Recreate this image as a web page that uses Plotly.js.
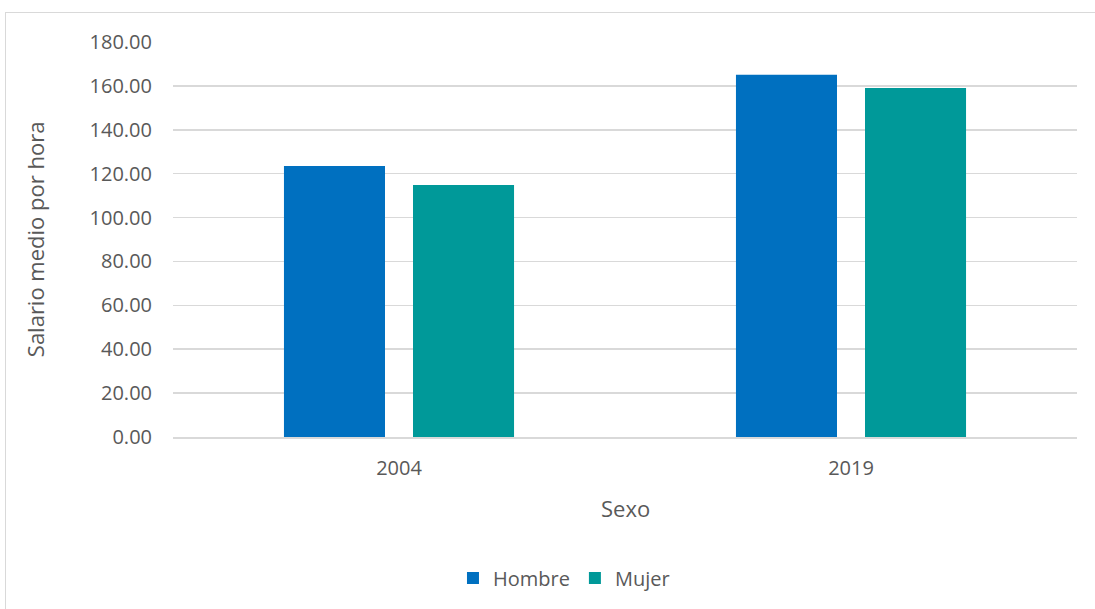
<!DOCTYPE html>
<html>
<head>
<meta charset="utf-8">
<script src="https://cdn.plot.ly/plotly-3.0.1.min.js"></script>
<style>
html,body{margin:0;padding:0;background:#fff;width:1095px;height:609px;overflow:hidden;}
#frame{position:absolute;left:5px;top:12px;width:1100px;height:610px;border:1.5px solid #d9d9d9;box-sizing:border-box;}
#chart{position:absolute;left:0;top:0;width:1095px;height:609px;}
</style>
</head>
<body>
<div id="frame"></div>
<div id="chart"></div>
<script>
const categories = ["2004", "2019"];
const hombre = [123.5, 165.1];
const mujer = [114.8, 159.0];
const yTicks = [0, 20, 40, 60, 80, 100, 120, 140, 160, 180];
const yTickLabels = yTicks.map(v => v.toFixed(2));

const font = "Open Sans, sans-serif";
const textColor = "#595959";

const traces = [
  {type: "bar", name: "Hombre", x: categories, y: hombre, marker: {color: "#0070C0"}, hoverinfo: "x+y+name"},
  {type: "bar", name: "Mujer", x: categories, y: mujer, marker: {color: "#009999"}, hoverinfo: "x+y+name"}
];

const layout = {
  width: 1095, height: 609,
  margin: {l: 173, r: 18, t: 42, b: 172, pad: 0},
  paper_bgcolor: "rgba(0,0,0,0)",
  plot_bgcolor: "rgba(0,0,0,0)",
  barmode: "group",
  bargap: 0.429,
  bargroupgap: 0.217,
  font: {family: font, color: textColor, size: 20},
  xaxis: {
    type: "category",
    showgrid: false, zeroline: false, showline: true,
    linecolor: "#d9d9d9", linewidth: 1.5,
    ticks: "", tickfont: {family: font, size: 20, color: textColor},
    ticklabelstandoff: 12
  },
  yaxis: {
    range: [0, 180],
    tickvals: yTicks, ticktext: yTickLabels,
    showgrid: true, gridcolor: "#d9d9d9", gridwidth: 1.5,
    zeroline: false, showline: false,
    ticks: "", ticklabelstandoff: 20,
    tickfont: {family: font, size: 20, color: textColor}
  },
  showlegend: true,
  legend: {
    orientation: "h", x: 0.4325, xanchor: "center", y: -0.357, yanchor: "middle",
    font: {family: font, size: 20, color: textColor},
    itemwidth: 30, traceorder: "normal"
  },
  annotations: [
    {text: "Sexo", xref: "paper", yref: "paper", x: 0.5, y: -0.18, showarrow: false,
     font: {family: font, size: 22, color: textColor}, xanchor: "center", yanchor: "middle"},
    {text: "Salario medio por hora", xref: "paper", yref: "paper", x: -0.153, y: 0.5, textangle: -90, showarrow: false,
     font: {family: font, size: 22, color: textColor}, xanchor: "center", yanchor: "middle"}
  ]
};

Plotly.newPlot("chart", traces, layout, {displayModeBar: false, staticPlot: true});
</script>
</body>
</html>
